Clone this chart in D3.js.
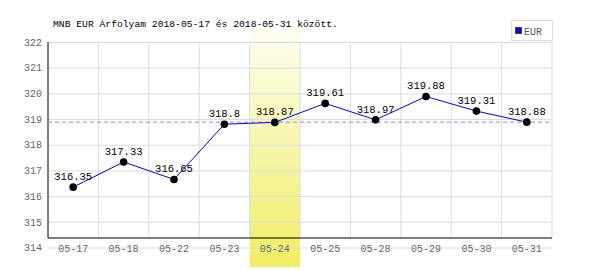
<!DOCTYPE html>
<html>
<head>
<meta charset="utf-8">
<script src="https://cdn.jsdelivr.net/npm/d3@7"></script>
<style>
  body { margin: 0; background: #fff; }
  text { font-family: "Liberation Mono", "DejaVu Sans Mono", monospace; }
</style>
</head>
<body>
<div id="chart"></div>
<script>
var dates = ['05-17', '05-18', '05-22', '05-23', '05-24', '05-25', '05-28', '05-29', '05-30', '05-31'];
var rates = [316.35, 317.33, 316.65, 318.8, 318.87, 319.61, 318.97, 319.88, 319.31, 318.88];
var y_ticks = [314, 315, 316, 317, 318, 319, 320, 321, 322];
var highlight_date = '05-24';
var ref_rate = 318.88;
var title = 'MNB EUR Árfolyam 2018-05-17 és 2018-05-31 között.';
var legend_label = 'EUR';

var chart_width = 600;
var chart_height = 270;
var plot_left = 48, plot_right = 552, plot_top = 42, plot_bottom = 238;

var svg = d3.select('#chart')
      .append('svg')
      .attr('width', chart_width)
      .attr('height', chart_height);

// scales
var x_scale = d3.scaleBand()
      .domain(dates)
      .range([plot_left, plot_right]);

var y_scale = d3.scaleLinear()
      .domain([314, 322])
      .range([247.5, plot_top]);

function cx(i) {
  return x_scale(dates[i]) + x_scale.bandwidth() / 2;
}

// highlight gradient
var grad = svg.append('defs').append('linearGradient')
      .attr('id', 'hl')
      .attr('x1', 0).attr('y1', 0).attr('x2', 0).attr('y2', 1);
grad.append('stop').attr('offset', '0%').attr('stop-color', '#fefef2');
grad.append('stop').attr('offset', '100%').attr('stop-color', '#f0ee62');

svg.append('rect')
   .attr('x', x_scale(highlight_date))
   .attr('y', 29)
   .attr('width', x_scale.bandwidth())
   .attr('height', 238)
   .attr('fill', 'url(#hl)');

// horizontal grid + y labels
var y_axis = d3.axisLeft(y_scale)
      .tickValues(y_ticks)
      .tickSize(-(plot_right - plot_left))
      .tickPadding(6)
      .tickFormat(d3.format('d'));

var gy = svg.append('g')
   .attr('transform', 'translate(' + plot_left + ',0)')
   .call(y_axis);
gy.select('.domain').remove();
gy.selectAll('line').attr('stroke', '#dcdcdc');
gy.selectAll('text')
  .attr('fill', '#666')
  .style('font-family', '"Liberation Mono", monospace')
  .style('font-size', '10px');

// vertical grid
svg.append('g')
   .selectAll('line')
   .data(dates)
   .enter()
   .append('line')
   .attr('x1', function(d) { return x_scale(d) + x_scale.bandwidth(); })
   .attr('x2', function(d) { return x_scale(d) + x_scale.bandwidth(); })
   .attr('y1', plot_top)
   .attr('y2', plot_bottom)
   .attr('stroke', '#dcdcdc');

// x labels
svg.append('g')
   .selectAll('text')
   .data(dates)
   .enter()
   .append('text')
   .attr('x', function(d) { return x_scale(d) + x_scale.bandwidth() / 2; })
   .attr('y', y_scale(314) + 4)
   .attr('text-anchor', 'middle')
   .attr('fill', '#666')
   .style('font-size', '10px')
   .text(function(d) { return d; });

// axes frame
svg.append('line')
   .attr('x1', plot_left).attr('x2', plot_left)
   .attr('y1', plot_top).attr('y2', plot_bottom)
   .attr('stroke', '#000');
svg.append('line')
   .attr('x1', plot_left).attr('x2', plot_right)
   .attr('y1', plot_bottom).attr('y2', plot_bottom)
   .attr('stroke', '#000');

// reference dashed line
svg.append('line')
   .attr('x1', plot_left).attr('x2', plot_right)
   .attr('y1', y_scale(ref_rate)).attr('y2', y_scale(ref_rate))
   .attr('stroke', '#8888ff')
   .attr('stroke-dasharray', '4,3');

// line
var line = d3.line()
      .x(function(d, i) { return cx(i); })
      .y(function(d) { return y_scale(d); });

svg.append('path')
   .datum(rates)
   .attr('d', line)
   .attr('fill', 'none')
   .attr('stroke', '#0000ff')
   .attr('stroke-width', 1);

// points
svg.append('g')
   .selectAll('circle')
   .data(rates)
   .enter()
   .append('circle')
   .attr('cx', function(d, i) { return cx(i); })
   .attr('cy', function(d) { return y_scale(d); })
   .attr('r', 3.8)
   .attr('fill', '#000');

// value labels
svg.append('g')
   .selectAll('text')
   .data(rates)
   .enter()
   .append('text')
   .attr('x', function(d, i) { return cx(i); })
   .attr('y', function(d) { return y_scale(d) - 7; })
   .attr('text-anchor', 'middle')
   .attr('fill', '#000')
   .style('font-size', '10.5px')
   .text(function(d) { return d; });

// title
svg.append('text')
   .attr('x', 53)
   .attr('y', 27)
   .attr('fill', '#000')
   .style('font-size', '9.7px')
   .text(title);

// legend
svg.append('rect')
   .attr('x', 511.5).attr('y', 20.5)
   .attr('width', 41).attr('height', 20)
   .attr('fill', '#fff')
   .attr('stroke', '#dcdcdc');
svg.append('rect')
   .attr('x', 515.5).attr('y', 27.5)
   .attr('width', 6).attr('height', 6)
   .attr('fill', '#0000ff')
   .attr('stroke', '#444');
svg.append('text')
   .attr('x', 524)
   .attr('y', 34.5)
   .attr('fill', '#555')
   .style('font-size', '10px')
   .text(legend_label);
</script>
</body>
</html>
